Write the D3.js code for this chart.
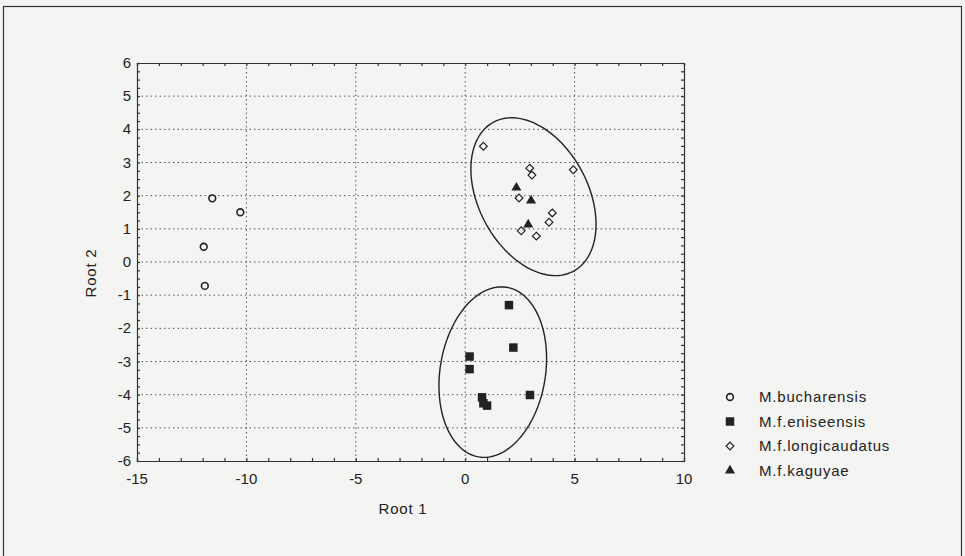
<!DOCTYPE html>
<html>
<head>
  <meta charset="UTF-8">
  <style>
    body { margin: 0; background: #f4f4f2; }
    svg { display: block; font-family: "Liberation Sans", Arial, sans-serif; }
    .grid line { stroke: #555; stroke-width: 1px; stroke-dasharray: 1.5, 3; }
    .lbl { fill: #222; font-size: 15px; }
    .legend text { fill: #222; font-size: 15px; letter-spacing: 0.8px; }
  </style>
</head>
<body>
<svg></svg>
<script src="https://d3js.org/d3.v7.min.js"></script>
<script>

// Root 1 / Root 2 scores
let bucharensis = [[-11.56, 1.92], [-10.28, 1.50], [-11.95, 0.46], [-11.90, -0.72]];
let eniseensis = [[2.00, -1.30], [2.20, -2.58], [0.20, -2.85], [0.20, -3.23],
                  [2.96, -4.01], [0.77, -4.08], [0.83, -4.26], [1.00, -4.33]];
let longicaudatus = [[0.83, 3.49], [2.95, 2.83], [3.05, 2.62], [4.94, 2.78], [2.46, 1.93],
                     [3.98, 1.48], [3.83, 1.20], [2.56, 0.94], [3.25, 0.78]];
let kaguyae = [[2.34, 2.24], [3.01, 1.85], [2.88, 1.13]];

// ellipses: centre x, centre y, half width, half height, correlation
let ellipses = [[3.12, 1.97, 2.86, 2.38, -0.35], [1.26, -3.32, 2.46, 2.57, 0.16]];

let xTicks = [-15, -10, -5, 0, 5, 10];
let yTicks = [-6, -5, -4, -3, -2, -1, 0, 1, 2, 3, 4, 5, 6];
let legendNames = ["M.bucharensis", "M.f.eniseensis", "M.f.longicaudatus", "M.f.kaguyae"];

let width = 965, height = 556;
let svg = d3.select("svg").attr("width", width).attr("height", height);

// outer frame
svg.append("rect").attr("x", 3.5).attr("y", 6.5).attr("width", 958).attr("height", 560)
  .attr("fill", "none").attr("stroke", "#333").attr("stroke-width", 1.2);

let x = d3.scaleLinear().domain([-15, 10]).range([137, 684]);
let y = d3.scaleLinear().domain([-6, 6]).range([461, 63]);

// grid
let grid = svg.append("g").attr("class", "grid");
grid.selectAll(".gx").data(xTicks.slice(1, -1)).enter().append("line")
  .attr("x1", d => x(d)).attr("x2", d => x(d)).attr("y1", y(6)).attr("y2", y(-6));
grid.selectAll(".gy").data(yTicks.slice(1, -1)).enter().append("line")
  .attr("y1", d => y(d)).attr("y2", d => y(d)).attr("x1", x(-15)).attr("x2", x(10));

// axes with inward ticks on all four sides
let xMinor = d3.range(-15, 10.01, 1);
let yMinor = d3.range(-6, 6.01, 0.25);
svg.append("g").attr("transform", `translate(0,${y(-6)})`)
  .call(d3.axisBottom(x).tickValues(xMinor).tickSize(-3).tickFormat(""));
svg.append("g").attr("transform", `translate(0,${y(6)})`)
  .call(d3.axisTop(x).tickValues(xMinor).tickSize(-3).tickFormat(""));
svg.append("g").attr("transform", `translate(${x(-15)},0)`)
  .call(d3.axisLeft(y).tickValues(yMinor).tickSize(-3).tickFormat(""));
svg.append("g").attr("transform", `translate(${x(10)},0)`)
  .call(d3.axisRight(y).tickValues(yMinor).tickSize(-3).tickFormat(""));
svg.selectAll(".domain, .tick line").attr("stroke", "#333").attr("stroke-width", 1.2);

// tick labels
svg.selectAll(".xl").data(xTicks).enter().append("text").attr("class", "lbl")
  .attr("x", d => x(d)).attr("y", y(-6) + 23).attr("text-anchor", "middle").text(d => d);
svg.selectAll(".yl").data(yTicks).enter().append("text").attr("class", "lbl")
  .attr("x", x(-15) - 6).attr("y", d => y(d) + 5).attr("text-anchor", "end").text(d => d);

svg.append("text").attr("class", "lbl").attr("x", 403).attr("y", 514)
  .attr("text-anchor", "middle").style("letter-spacing", "0.8px").text("Root 1");
svg.append("text").attr("class", "lbl").attr("transform", "translate(96,273) rotate(-90)")
  .attr("text-anchor", "middle").style("letter-spacing", "0.8px").text("Root 2");

// ellipses
let line = d3.line().x(d => x(d[0])).y(d => y(d[1]));
ellipses.forEach(e => {
  let pts = d3.range(0, 361, 3).map(a => {
    let t = a * Math.PI / 180;
    return [e[0] + e[2] * Math.cos(t),
            e[1] + e[3] * (e[4] * Math.cos(t) + Math.sqrt(1 - e[4] * e[4]) * Math.sin(t))];
  });
  svg.append("path").attr("d", line(pts)).attr("fill", "none")
    .attr("stroke", "#222").attr("stroke-width", 1.4);
});

// square diamond (d3's own diamond is too tall)
let squareDiamond = {
  draw(ctx, size) {
    let r = Math.sqrt(size / 2);
    ctx.moveTo(0, -r); ctx.lineTo(r, 0); ctx.lineTo(0, r); ctx.lineTo(-r, 0); ctx.closePath();
  }
};

// markers
let sym = {
  circle: d3.symbol().type(d3.symbolCircle).size(36),
  square: d3.symbol().type(d3.symbolSquare).size(72),
  diamond: d3.symbol().type(squareDiamond).size(30),
  triangle: d3.symbol().type(d3.symbolTriangle).size(44)
};
let styles = [
  ["circle", "none", 1.6], ["square", "#222", 0], ["diamond", "#f8f8f6", 1.2], ["triangle", "#222", 0]
];

function drawPoints(data, s) {
  svg.append("g").selectAll("path").data(data).enter().append("path")
    .attr("transform", d => `translate(${x(d[0])},${y(d[1])})`)
    .attr("d", sym[s[0]]())
    .attr("fill", s[1]).attr("stroke", "#222").attr("stroke-width", s[2]);
}
drawPoints(bucharensis, styles[0]);
drawPoints(eniseensis, styles[1]);
drawPoints(longicaudatus, styles[2]);
drawPoints(kaguyae, styles[3]);

// legend
let legend = svg.append("g").attr("class", "legend");
legendNames.forEach((name, i) => {
  let ly = 397 + i * 24.5;
  legend.append("path").attr("transform", `translate(730,${ly})`)
    .attr("d", sym[styles[i][0]]())
    .attr("fill", styles[i][1]).attr("stroke", "#222").attr("stroke-width", styles[i][2]);
  legend.append("text").attr("x", 759).attr("y", ly + 5).text(name);
});

</script>
</body>
</html>
